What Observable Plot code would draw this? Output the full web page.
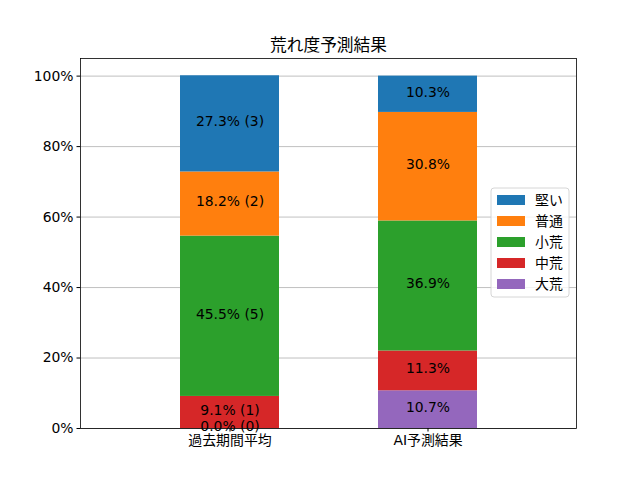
<!DOCTYPE html>
<html>
<head>
<meta charset="utf-8">
<script src="https://cdn.jsdelivr.net/npm/d3@7"></script>
<script src="https://cdn.jsdelivr.net/npm/@observablehq/plot@0.6"></script>
<style>
  html, body { margin: 0; padding: 0; background: white; }
</style>
</head>
<body>
<div id="chart"></div>
<script>
const titleText = "荒れ度予測結果";
const categories = ["過去期間平均", "AI予測結果"];
const classes = ["大荒", "中荒", "小荒", "普通", "堅い"]; // bottom to top
const legendOrder = ["堅い", "普通", "小荒", "中荒", "大荒"];
const classColors = ["#9467bd", "#d62728", "#2ca02c", "#ff7f0e", "#1f77b4"];
const pastPct = [0.0, 9.1, 45.5, 18.2, 27.3];
const pastCount = [0, 1, 5, 2, 3];
const aiPct = [10.7, 11.3, 36.9, 30.8, 10.3];
const yTicks = [0, 20, 40, 60, 80, 100];

const rows = [];
classes.forEach((c, i) => {
  rows.push({cat: categories[0], cls: c, value: pastPct[i], label: `${pastPct[i].toFixed(1)}% (${pastCount[i]})`});
});
classes.forEach((c, i) => {
  rows.push({cat: categories[1], cls: c, value: aiPct[i], label: `${aiPct[i].toFixed(1)}%`});
});

const font = "'DejaVu Sans', 'Noto Sans CJK JP', sans-serif";

const svg = Plot.plot({
  width: 640,
  height: 480,
  marginLeft: 80,
  marginRight: 64,
  marginTop: 58,
  marginBottom: 52,
  style: {fontFamily: font, fontSize: "13.9px", background: "white", color: "black"},
  x: {type: "band", domain: categories, padding: 0.5, align: 0.5, label: null},
  y: {domain: [0, 105], label: null},
  color: {domain: classes, range: classColors},
  marks: [
    Plot.gridY(yTicks, {stroke: "#b0b0b0", strokeOpacity: 1, strokeWidth: 0.8}),
    Plot.barY(rows, Plot.stackY({x: "cat", y: "value", z: "cls", fill: "cls", order: classes})),
    Plot.text(rows, Plot.stackY({x: "cat", y: "value", z: "cls", text: "label", order: classes, fill: "black", fontSize: 13.9, dy: -2})),
    Plot.axisY(yTicks, {tickSize: 3.5, tickPadding: 3.5, tickFormat: d => d + "%", fontSize: 13.9, stroke: "black", fill: "black", label: null}),
    Plot.axisX({tickSize: 3.5, tickPadding: 3.5, fontSize: 13.9, stroke: "black", fill: "black", label: null}),
    Plot.frame({stroke: "black", strokeWidth: 0.8}),
    Plot.text([titleText], {frameAnchor: "top", lineAnchor: "bottom", dy: -8, fontSize: 16.7, fill: "black"})
  ]
});

// Legend
const g = d3.select(svg).append("g").attr("font-family", font).attr("font-size", 13.9).attr("text-anchor", "start");
const lx = 491, ly = 188, lw = 78, lh = 109;
g.append("rect").attr("x", lx).attr("y", ly).attr("width", lw).attr("height", lh)
  .attr("rx", 3).attr("fill", "white").attr("fill-opacity", 0.8).attr("stroke", "#cccccc").attr("stroke-width", 0.8);
legendOrder.forEach((c, i) => {
  const cy = 200 + i * 21;
  g.append("rect").attr("x", 497).attr("y", cy - 5).attr("width", 28).attr("height", 10)
    .attr("fill", classColors[classes.indexOf(c)]);
  g.append("text").attr("x", 535).attr("y", cy).attr("dy", "0.35em").attr("text-anchor", "start").attr("fill", "black").text(c);
});

document.getElementById("chart").appendChild(svg);
</script>
</body>
</html>
